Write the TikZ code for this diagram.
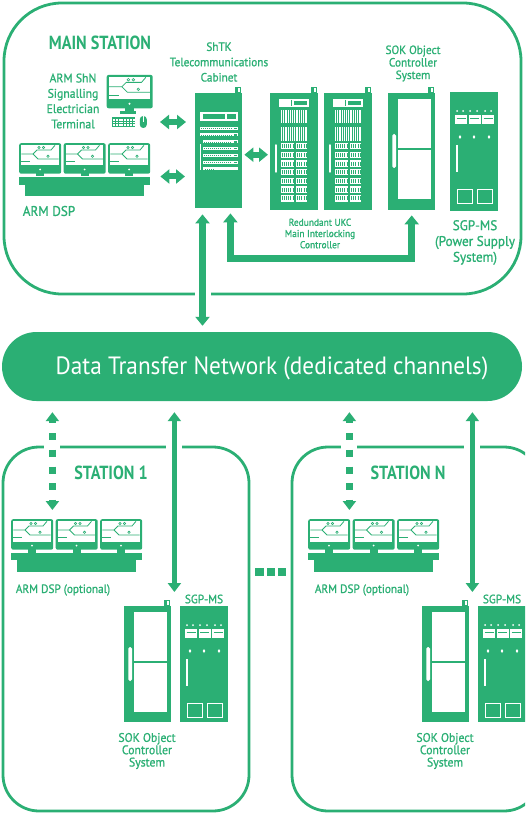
\documentclass[tikz,border=0pt]{standalone}
\usepackage{fontspec}
\setmainfont{PT Sans}[FakeStretch=0.94,FakeBold=1]
\newfontfamily\titlefont{PT Sans}[FakeStretch=0.85]
\newfontfamily\netfont{PT Sans}[FakeStretch=0.93]
\usepackage{tikz}
\usetikzlibrary{arrows.meta}

\definecolor{sigreen}{RGB}{43,175,116}

\begin{document}
\begin{tikzpicture}[x=1pt,y=-1pt]

%
% Styles
%
\tikzstyle{stationbox} = [draw=sigreen,line width=2.8pt,inner sep=0pt]
\tikzstyle{netbar}     = [fill=sigreen,minimum width=520pt,minimum height=69pt,rounded corners=34.5pt,inner sep=0pt]
\tikzstyle{nettext}    = [text=white,font=\netfont\fontsize{25}{25}\selectfont,inner sep=0pt]
\tikzstyle{title}      = [text=sigreen,font=\titlefont\bfseries\fontsize{19}{19}\selectfont,inner sep=0pt]
\tikzstyle{caption}    = [text=sigreen,align=center,inner sep=0pt]
\tikzstyle{cabinet}    = [fill=sigreen,anchor=north west,minimum width=47pt,minimum height=117pt,inner sep=0pt]
\tikzstyle{monitor}    = [fill=sigreen,anchor=north west,rounded corners=2pt,minimum width=42pt,minimum height=30.5pt,inner sep=0pt]
\tikzstyle{desk}       = [fill=sigreen,anchor=north west,minimum width=131pt,minimum height=8pt,inner sep=0pt]
\tikzstyle{bigedge}    = [{Triangle[width=14pt,length=9pt]}-{Triangle[width=14pt,length=9pt]},draw=sigreen,line width=6.5pt]
\tikzstyle{linkedge}   = [{Triangle[width=14pt,length=9pt]}-{Triangle[width=14pt,length=9pt]},draw=sigreen,line width=6pt]
\tikzstyle{lowedge}    = [{Triangle[width=13pt,length=9pt]}-{Triangle[width=13pt,length=9pt]},draw=sigreen,line width=5.5pt]
\tikzstyle{dotedge}    = [{Triangle[width=13pt,length=9pt]}-{Triangle[width=13pt,length=9pt]},draw=sigreen,line width=7pt,dash pattern=on 7pt off 9.7pt,dash phase=4.2pt]
\tikzstyle{cutout}     = [preaction={draw=white,line width=16pt,solid,-}]

%
% Icons
%
\tikzset{
  screen/.pic={
    \fill[white] (2.3,2.3) rectangle (39.7,22.5);
    \fill[white] (21,26.5) circle (1pt);
    \fill[sigreen] (17,30) rectangle (25,33.5);
    \draw[sigreen,line width=0.8pt] (2.3,11) -- (14,11) -- (18,7) -- (32,7) -- (36,2.3);
    \draw[sigreen,line width=0.8pt] (14,11) -- (19,16) -- (39.7,16);
    \draw[sigreen,line width=0.8pt] (2.3,18.5) -- (11,18.5);
    \draw[sigreen,line width=0.6pt] (20,4.6) circle (1.2pt) (24.5,4.6) circle (1.2pt) (29,13.3) circle (1.2pt);
  },
  telecom/.pic={
    \draw[sigreen,line width=0.7pt] (40,-6) rectangle (45,-1);
    \fill[sigreen] (40,-6) rectangle (42.5,-1);
    \fill[white] (5,19) rectangle (43,28);
    \fill[sigreen] (7.5,21) rectangle (30,26);
    \fill[sigreen] (32,21) rectangle (40.5,26);
    \foreach \ry in {34,40.5} {
      \fill[white] (5,\ry) rectangle (43,\ry+3);
      \draw[sigreen,line width=0.8pt,dash pattern=on 1pt off 1pt] (6,\ry+1.5) -- (37,\ry+1.5);
      \fill[sigreen] (38.5,\ry+0.8) rectangle (42,\ry+2.2);
    }
    \foreach \ry in {47.5,54,61,68} {
      \fill[white] (8,\ry) rectangle (43,\ry+3);
      \draw[sigreen,line width=0.8pt,dash pattern=on 1pt off 1pt] (9,\ry+1.5) -- (37,\ry+1.5);
      \fill[sigreen] (38.5,\ry+0.8) rectangle (42,\ry+2.2);
    }
    \fill[white] (8,74.5) rectangle (43,77.5);
    \draw[sigreen,line width=0.8pt,dash pattern=on 1pt off 1pt] (10,76) -- (20,76);
    \draw[white,line width=1.2pt] (5.5,51) -- (5.5,77);
  },
  interlock/.pic={
    \draw[sigreen,line width=0.7pt] (41,-6) rectangle (46,-1);
    \fill[sigreen] (41,-6) rectangle (43.5,-1);
    \fill[white] (9,6) rectangle (39,14);
    \fill[sigreen] (24,8) rectangle (37,12);
    \draw[sigreen,line width=0.5pt] (21,7) -- (21,13);
    \fill[white] (11,17) rectangle (37,30);
    \fill[white] (11,34) rectangle (37,48);
    \foreach \sx in {12.6,14.8,...,36} \draw[sigreen,line width=0.7pt] (\sx,17) -- (\sx,30) (\sx,34) -- (\sx,48);
    \foreach \cy in {50,58.7,67.4,76.1,84.8,93.5,102.2} {
      \fill[white] (11,\cy) rectangle (24,\cy+6.3);
      \fill[white] (25.5,\cy) rectangle (37,\cy+6.3);
      \draw[sigreen,line width=4pt,dash pattern=on 0.8pt off 1.4pt] (11.5,\cy+3.15) -- (37,\cy+3.15);
    }
    \draw[white,line width=1.5pt,line cap=round] (6,52) -- (6,79);
  },
  objctrl/.pic={
    \draw[sigreen,line width=0.7pt] (40,-6) rectangle (45,-1);
    \fill[sigreen] (40,-6) rectangle (42.5,-1);
    \fill[white] (10.3,6) rectangle (43,55);
    \fill[white] (10.3,57) rectangle (43,106);
    \fill[white,rounded corners=1.6pt] (4.3,41) rectangle (8,75);
  },
  power/.pic={
    \foreach \dx in {7,13,20,27,35,41} \fill[white] (\dx,19) circle (1pt);
    \foreach \mx in {5,18.5,32} {
      \fill[white] (\mx,23) rectangle (\mx+12,32);
      \draw[sigreen,line width=0.7pt] (\mx+1.5,26) -- (\mx+10.5,26);
    }
    \foreach \dx in {10,24,39} \fill[white] (\dx,43) -- (\dx+1.3,45) -- (\dx,47) -- (\dx-1.3,45) -- cycle;
    \draw[white,line width=1.2pt] (7,53) -- (7,80);
    \draw[white,line width=0.9pt] (7,97) rectangle (22,111) (27,97) rectangle (42,111);
  },
}

\useasboundingbox (0,0) rectangle (525,813);
\clip (0,0) rectangle (525,813);

%
% Frames
%
\node[stationbox,rounded corners=58pt,minimum width=517pt,minimum height=291pt] (main) at (262.5,148.5) {};
\node[stationbox,rounded corners=36pt,minimum width=246pt,minimum height=364pt] (st1) at (126,629) {};
\node[stationbox,rounded corners=36pt,minimum width=248pt,minimum height=364pt] (stN) at (416,629) {};
\node[netbar] (net) at (262,366.5) {};
\node[nettext] (nettxt) at (272,368.5) {Data Transfer Network (dedicated channels)};

%
% Main station
%
\node[title] (maintitle) at (100,43) {MAIN STATION};

\node[caption,font=\fontsize{12.5}{15.3}\selectfont] (shncap) at (73,101) {ARM ShN\\Signalling\\Electrician\\Terminal};
\node[monitor,minimum width=46pt,minimum height=33.4pt] (shn) at (106.5,74.7) {};
\pic[scale=1.095] at (shn.north west) {screen};
\fill[sigreen] (119.5,111) rectangle (135.5,114.5);
\node[fill=sigreen,minimum width=23.3pt,minimum height=10pt,inner sep=0pt] (kbd) at (123.3,122.3) {};
\foreach \kx in {0,...,7} \foreach \ky in {0,1,2} \fill[white] (113+\kx*2.8,118.8+\ky*2.8) rectangle ++(1.9,1.9);
\node[fill=sigreen,minimum width=7pt,minimum height=12pt,rounded corners=3.4pt,inner sep=0pt] (mouse) at (143.3,122) {};
\draw[white,line width=0.6pt] (mouse.north) -- (mouse.center);

\node[monitor] (dspa) at (19,143) {};
\node[monitor] (dspb) at (63.5,143) {};
\node[monitor] (dspc) at (108,143) {};
\foreach \m in {dspa,dspb,dspc} \pic at (\m.north west) {screen};
\node[desk] (dsp) at (19,176.5) {};
\fill[sigreen] ([xshift=6pt]dsp.south west) rectangle ([xshift=-6pt,yshift=-11pt]dsp.south east);
\node[caption,font=\fontsize{14}{14}\selectfont] (dspcap) at (49,211) {ARM DSP};

\node[cabinet,minimum height=115pt] (shtk) at (195,93) {};
\pic at (shtk.north west) {telecom};
\node[caption,font=\fontsize{12}{15.3}\selectfont] (shtkcap) at (219,62) {ShTK\\Telecommunications\\Cabinet};

\node[cabinet,minimum width=48pt] (ukca) at (270,93) {};
\node[cabinet,minimum width=48pt] (ukcb) at (324,93) {};
\pic at (ukca.north west) {interlock};
\pic at (ukcb.north west) {interlock};
\node[caption,font=\fontsize{10}{11.2}\selectfont] (ukccap) at (320,233.5) {Redundant UKC\\Main Interlocking\\Controller};

\node[cabinet] (sok) at (388,93) {};
\pic at (sok.north west) {objctrl};
\node[caption,font=\fontsize{12}{12.5}\selectfont] (sokcap) at (413,63.5) {SOK Object\\Controller\\System};

\node[cabinet,minimum width=48pt,minimum height=119pt] (sgp) at (450,92) {};
\pic at (sgp.north west) {power};
\node[caption,font=\fontsize{14}{15.8}\selectfont] (sgpcap) at (475,242.5) {SGP-MS\\(Power Supply\\System)};

\draw[bigedge,cutout,shorten <=6pt,shorten >=6pt] ([xshift=7.5pt]shtk.south west) -- ([xshift=7.5pt]shtk.south west |- net.north);
\draw[bigedge,shorten <=5pt,shorten >=5pt] ([xshift=-12pt]shtk.south east) -- ++(0,50) -| (sok.south);
\draw[linkedge,shorten <=13pt,shorten >=9pt] (mouse.east) -- (mouse.east -| shtk.west);
\draw[linkedge,shorten <=10pt,shorten >=10pt] (dsp.north east) -- (dsp.north east -| shtk.west);
\draw[linkedge,shorten <=2pt,shorten >=2pt] ([yshift=-4pt]shtk.east) -- ([yshift=-4pt]shtk.east -| ukca.west);

%
% Station 1
%
\node[title] (st1title) at (111,473) {STATION 1};

\node[monitor] (s1dspa) at (11,519) {};
\node[monitor] (s1dspb) at (55.5,519) {};
\node[monitor] (s1dspc) at (100,519) {};
\foreach \m in {s1dspa,s1dspb,s1dspc} \pic at (\m.north west) {screen};
\node[desk,minimum height=7.5pt] (s1dsp) at (11,552.5) {};
\fill[sigreen] ([xshift=6pt]s1dsp.south west) rectangle ([xshift=-6pt,yshift=-12pt]s1dsp.south east);
\node[caption,font=\fontsize{12}{12}\selectfont] (s1dspcap) at (63,590) {ARM DSP (optional)};

\node[cabinet,minimum height=116pt] (s1sok) at (124,606) {};
\pic at (s1sok.north west) {objctrl};
\node[cabinet,minimum width=48pt,minimum height=116pt] (s1sgp) at (180,606) {};
\pic at (s1sgp.north west) {power};
\node[caption,font=\fontsize{12}{12}\selectfont] (s1sgpcap) at (204,599) {SGP-MS};
\node[caption,font=\fontsize{12.5}{12.3}\selectfont] (s1sokcap) at (147,751) {SOK Object\\Controller\\System};

\draw[dotedge,cutout,shorten <=11pt,shorten >=9pt] ([xshift=-1pt]s1dspa.north east |- net.south) -- ([xshift=-1pt]s1dspa.north east);
\draw[lowedge,cutout,shorten <=11pt,shorten >=14pt] ([xshift=3pt]s1sok.north east |- net.south) -- ([xshift=3pt]s1sok.north east);

%
% Station N
%
\node[title] (stNtitle) at (408,473) {STATION N};

\node[monitor] (sNdspa) at (308,519) {};
\node[monitor] (sNdspb) at (352.5,519) {};
\node[monitor] (sNdspc) at (397,519) {};
\foreach \m in {sNdspa,sNdspb,sNdspc} \pic at (\m.north west) {screen};
\node[desk,minimum height=7.5pt] (sNdsp) at (308,552.5) {};
\fill[sigreen] ([xshift=6pt]sNdsp.south west) rectangle ([xshift=-6pt,yshift=-12pt]sNdsp.south east);
\node[caption,font=\fontsize{12}{12}\selectfont] (sNdspcap) at (362,590) {ARM DSP (optional)};

\node[cabinet,minimum height=116pt] (sNsok) at (422,606) {};
\pic at (sNsok.north west) {objctrl};
\node[cabinet,minimum width=48pt,minimum height=116pt] (sNsgp) at (478,606) {};
\pic at (sNsgp.north west) {power};
\node[caption,font=\fontsize{12}{12}\selectfont] (sNsgpcap) at (502,599) {SGP-MS};
\node[caption,font=\fontsize{12.5}{12.3}\selectfont] (sNsokcap) at (445,751) {SOK Object\\Controller\\System};

\draw[dotedge,cutout,shorten <=11pt,shorten >=9pt] ([xshift=-1pt]sNdspa.north east |- net.south) -- ([xshift=-1pt]sNdspa.north east);
\draw[lowedge,cutout,shorten <=11pt,shorten >=14pt] ([xshift=3pt]sNsok.north east |- net.south) -- ([xshift=3pt]sNsok.north east);

% more stations
\draw[sigreen,line width=7.5pt,dash pattern=on 8.3pt off 3.2pt,shorten <=5pt,shorten >=5pt] ([yshift=57pt]st1.east) -- ([yshift=57pt]stN.west);

\end{tikzpicture}
\end{document}
